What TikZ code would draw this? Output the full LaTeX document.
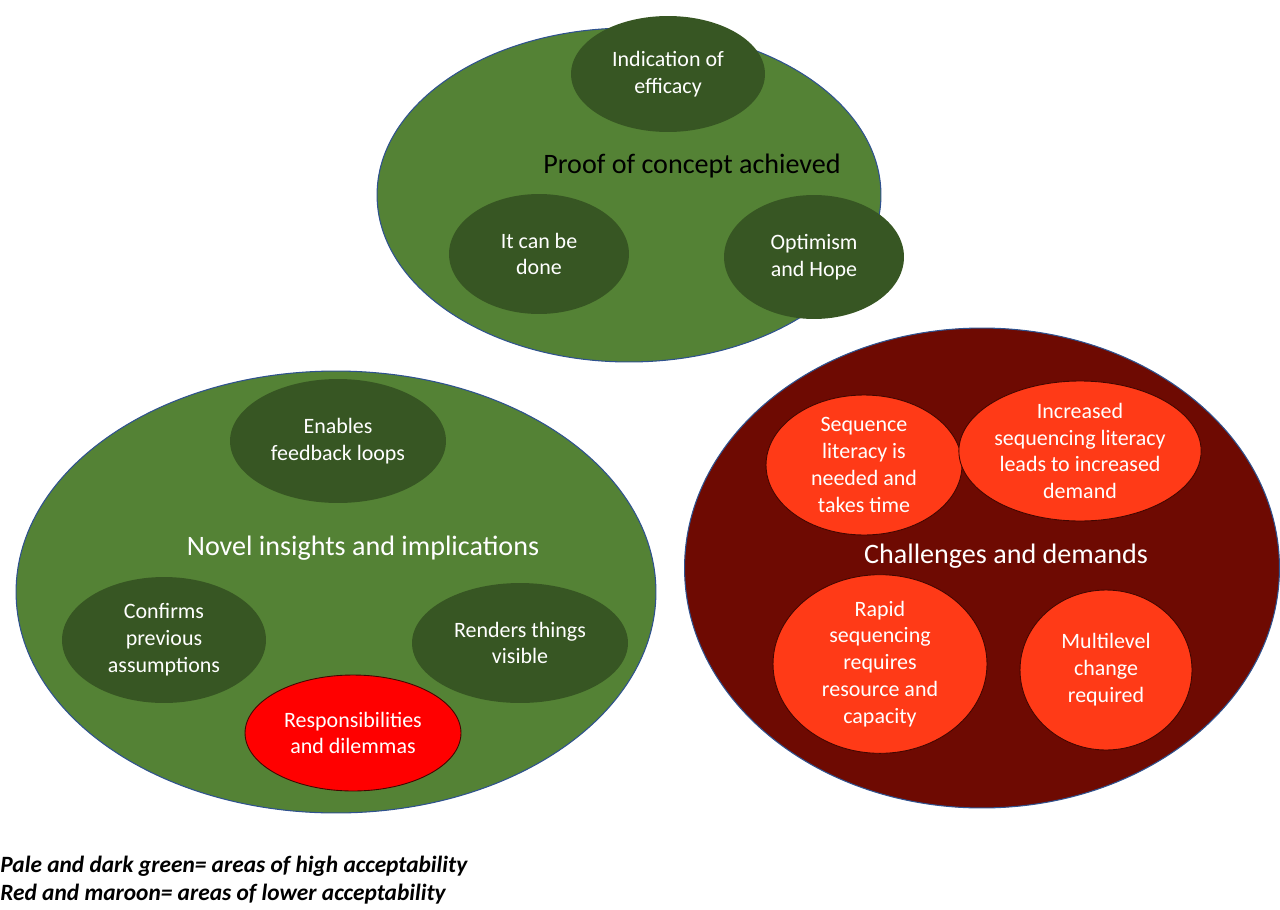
\documentclass[tikz,border=0pt]{standalone}
\usepackage{fontspec}
\setmainfont{Carlito}
\usetikzlibrary{shapes.geometric}
\definecolor{pale}{HTML}{548235}
\definecolor{dark}{HTML}{375623}
\definecolor{maroon}{HTML}{6E0A02}
\definecolor{orng}{HTML}{FF3A17}
\definecolor{edge}{HTML}{2F528F}
\begin{document}
\begin{tikzpicture}[x=0.02cm,y=-0.02cm,
 big/.style={ellipse,draw=edge,line width=0.6pt,inner sep=0pt},
 sm/.style={ellipse,inner sep=0pt,text=white,align=center,font=\fontsize{12.5}{15.3}\selectfont},
 g/.style={sm,fill=dark},
 o/.style={sm,fill=orng,draw=maroon!60!black,line width=0.5pt},
 ttl/.style={font=\fontsize{16}{19}\selectfont}]
\useasboundingbox (0,0) rectangle (1280,909);
\node[big,fill=pale,minimum width=10.08cm,minimum height=6.68cm] (top) at (629,195) {};
\node[big,fill=pale,minimum width=12.8cm,minimum height=8.84cm] (left) at (336,592) {};
\node[big,fill=maroon,minimum width=11.9cm,minimum height=9.6cm] (right) at (982,568) {};
\node[ttl] (t1) at (692,166) {Proof of concept achieved};
\node[ttl,text=white] (t2) at (363,548) {Novel insights and implications};
\node[ttl,text=white] (t3) at (1006,556) {Challenges and demands};
\node[g,minimum width=3.88cm,minimum height=2.32cm] (a) at (668,74) {Indication of\\efficacy};
\node[g,minimum width=3.6cm,minimum height=2.4cm] (b) at (539,254) {It can be\\done};
\node[g,minimum width=3.6cm,minimum height=2.48cm] (c) at (814,257) {Optimism\\and Hope};
\node[g,minimum width=4.32cm,minimum height=2.48cm] (d) at (338,441) {Enables\\feedback loops};
\node[g,minimum width=4.08cm,minimum height=2.52cm] (e) at (164,640) {Confirms\\previous\\assumptions};
\node[g,minimum width=4.32cm,minimum height=2.4cm] (f) at (520,643) {Renders things\\visible};
\node[sm,fill=red,draw=maroon!60!black,line width=0.5pt,minimum width=4.32cm,minimum height=2.32cm] (h) at (353,733) {Responsibilities\\and dilemmas};
\node[o,minimum width=3.92cm,minimum height=2.8cm] (i) at (864,465) {Sequence\\literacy is\\needed and\\takes time};
\node[o,minimum width=4.44cm,minimum height=2.8cm] (j) at (1080,451) {Increased\\sequencing literacy\\leads to increased\\demand};
\node[o,minimum width=4.28cm,minimum height=3.32cm] (k) at (880,664) {Rapid\\sequencing\\requires\\resource and\\capacity};
\node[o,minimum width=3.44cm,minimum height=3.2cm] (l) at (1106,670) {Multilevel\\change\\required};
\node[anchor=west,align=left,font=\fontsize{13.3}{16}\selectfont\bfseries\itshape,inner sep=0pt] (foot) at (0,880) {Pale and dark green= areas of high acceptability\\Red and maroon= areas of lower acceptability};
\end{tikzpicture}
\end{document}
